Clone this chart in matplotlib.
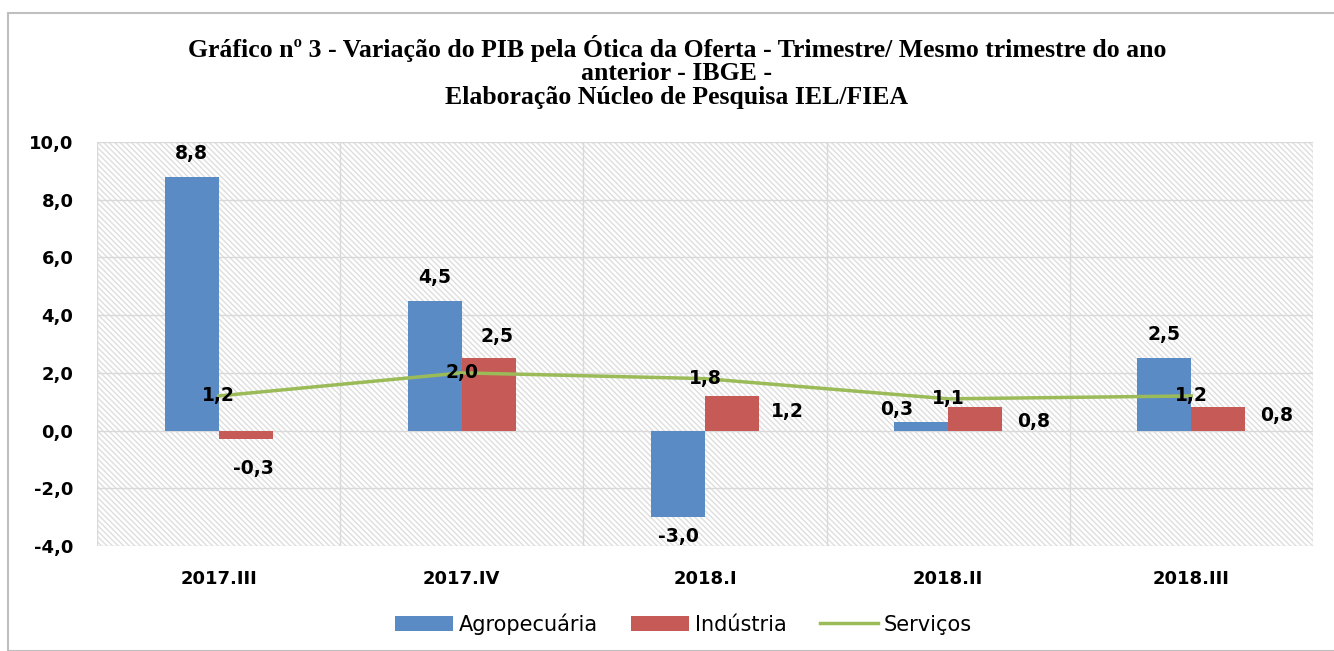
import numpy as np
import matplotlib.pyplot as plt
from matplotlib.patches import Rectangle

# data
categorias = ['2017.III', '2017.IV', '2018.I', '2018.II', '2018.III']
agropecuaria = [8.8, 4.5, -3.0, 0.3, 2.5]
industria = [-0.3, 2.5, 1.2, 0.8, 0.8]
servicos = [1.2, 2.0, 1.8, 1.1, 1.2]

titulo = ('Gráfico nº 3 - Variação do PIB pela Ótica da Oferta - Trimestre/ Mesmo trimestre do ano\n'
          'anterior - IBGE -\nElaboração Núcleo de Pesquisa IEL/FIEA')

azul = '#5b8bc5'
vermelho = '#c55a56'
verde = '#9bbb59'


def fmt(v):
    return f'{v:.1f}'.replace('.', ',')


fig = plt.figure(figsize=(13.34, 6.51), dpi=100)
fig.patches.append(Rectangle((8 / 1334, 0), 1, 1 - 13 / 651, transform=fig.transFigure,
                             fill=False, edgecolor='#bfbfbf', lw=1.5))
ax = fig.add_axes([97 / 1334, 1 - 546 / 651, 1216 / 1334, 404 / 651])

x = np.arange(len(categorias))
w = 0.222
b1 = ax.bar(x - w / 2, agropecuaria, w, color=azul, label='Agropecuária', zorder=3)
b2 = ax.bar(x + w / 2, industria, w, color=vermelho, label='Indústria', zorder=3)
l1, = ax.plot(x, servicos, color=verde, lw=2.5, label='Serviços', zorder=4)

ax.set_xlim(-0.5, 4.5)
ax.set_ylim(-4, 10)
ax.set_yticks(np.arange(-4, 11, 2))
ax.set_yticklabels([fmt(v) for v in np.arange(-4, 11, 2)])
ax.set_xticks(x)
ax.set_xticklabels(categorias)
ax.tick_params(length=0, labelsize=13)
for t in ax.get_xticklabels() + ax.get_yticklabels():
    t.set_fontweight('bold')
ax.tick_params(axis='x', pad=17)
ax.tick_params(axis='y', pad=17)

# hatched background and grid
ax.add_patch(Rectangle((0, 0), 1, 1, transform=ax.transAxes, facecolor='white',
                       edgecolor='#dedede', hatch='\\\\\\\\\\\\', lw=0, zorder=0))
for yv in np.arange(-4, 11, 2):
    ax.axhline(yv, color='#d9d9d9', lw=1, zorder=1)
for xv in np.arange(-0.5, 5, 1):
    ax.axvline(xv, color='#d9d9d9', lw=1, zorder=1)
for s in ax.spines.values():
    s.set_visible(False)

# labels (offsets in points)
lab = dict(fontsize=13.5, fontweight='bold', ha='center', va='center', zorder=5)
off_agro = [(0, 17), (0, 17), (0, -14), (-18, 9), (0, 17)]
for xi, v, o in zip(x, agropecuaria, off_agro):
    ax.annotate(fmt(v), (xi - w / 2, v), xytext=o, textcoords='offset points', **lab)
off_ind = [(6, -21), (6, 16), (40, -11), (42, -10), (42, -6)]
for xi, v, o in zip(x, industria, off_ind):
    ax.annotate(fmt(v), (xi + w / 2, v), xytext=o, textcoords='offset points', **lab)
for xi, v in zip(x, servicos):
    ax.annotate(fmt(v), (xi, v), xytext=(0, 0), textcoords='offset points', **lab)

fig.text(677 / 1334, 1 - 72 / 651, titulo, ha='center', va='center', fontsize=18.5,
         fontweight='bold', family='Liberation Serif', linespacing=1.02)

ax.legend([b1, b2, l1], ['Agropecuária', 'Indústria', 'Serviços'],
          loc='center', bbox_to_anchor=(0.482, -0.193), ncol=3, frameon=False,
          fontsize=15, handlelength=2.8, handleheight=0.75, handletextpad=0.25,
          columnspacing=1.6)

fig.savefig('out.png', dpi=100)
